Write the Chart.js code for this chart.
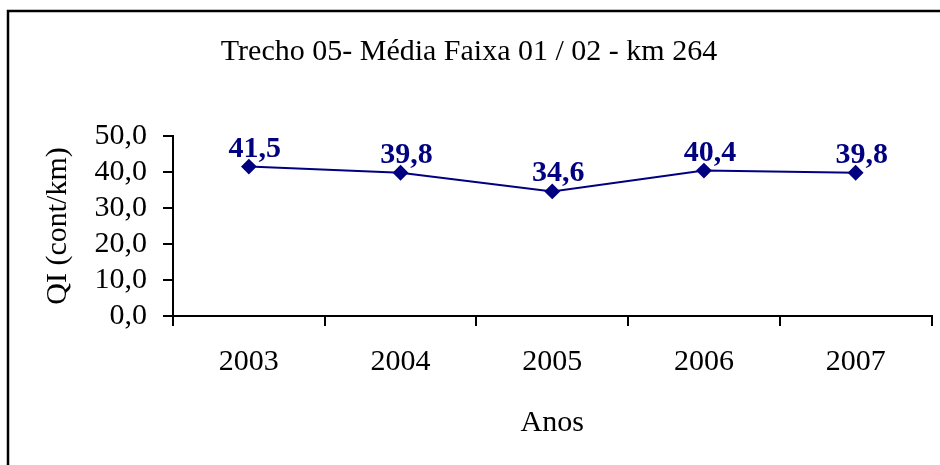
<!DOCTYPE html>
<html>
<head>
<meta charset="utf-8">
<script src="https://cdn.jsdelivr.net/npm/chart.js@4"></script>
<style>
    html, body { margin: 0; padding: 0; background: #fff; }
    #wrap { width: 940px; height: 465px; }
</style>
</head>
<body>
<div id="wrap"><canvas id="qiChart" width="940" height="465"></canvas></div>
<script>
// QI values per year
const anos = ['2003', '2004', '2005', '2006', '2007'];
const qiMedia = [41.5, 39.8, 34.6, 40.4, 39.8];
const yTicks = [0, 10, 20, 30, 40, 50];

const serif = "'Liberation Serif', 'Times New Roman', serif";
const navy = '#000080';
const fontSize = 30;

const fmt = v => v.toFixed(1).replace('.', ',');

// frame line along the top and left side of the figure
const framePlugin = {
    id: 'frame',
    beforeDraw(chart) {
        const ctx = chart.ctx;
        ctx.save();
        ctx.strokeStyle = '#000';
        ctx.lineWidth = 2.5;
        ctx.beginPath();
        ctx.moveTo(8, 465);
        ctx.lineTo(8, 11);
        ctx.lineTo(940, 11);
        ctx.stroke();
        ctx.restore();
    }
};

// value labels above each point
const valueLabels = {
    id: 'valueLabels',
    afterDatasetsDraw(chart) {
        const ctx = chart.ctx;
        const meta = chart.getDatasetMeta(0);
        ctx.save();
        ctx.font = 'bold ' + fontSize + 'px ' + serif;
        ctx.fillStyle = navy;
        ctx.textAlign = 'center';
        ctx.textBaseline = 'alphabetic';
        meta.data.forEach((pt, i) => {
            ctx.fillText(fmt(chart.data.datasets[0].data[i]), pt.x + 6, pt.y - 10);
        });
        ctx.restore();
    }
};

const ctx = document.getElementById('qiChart').getContext('2d');
new Chart(ctx, {
    type: 'line',
    data: {
        labels: anos,
        datasets: [{
            data: qiMedia,
            borderColor: navy,
            backgroundColor: navy,
            borderWidth: 2,
            pointStyle: 'rectRot',
            pointRadius: 6.5,
            pointBackgroundColor: navy,
            pointBorderColor: navy,
            tension: 0,
            fill: false
        }]
    },
    options: {
        responsive: false,
        animation: false,
        layout: { padding: { left: 0, right: 2, top: 0, bottom: 0 } },
        plugins: {
            legend: { display: false },
            tooltip: { enabled: false },
            title: {
                display: true,
                text: 'Trecho 05- Média Faixa 01 / 02 - km 264',
                color: '#000',
                font: { family: serif, size: fontSize, weight: 'normal', lineHeight: 1.2 },
                padding: { top: 34, bottom: 66 }
            }
        },
        scales: {
            x: {
                offset: true,
                grid: {
                    offset: true,
                    drawOnChartArea: false,
                    drawTicks: true,
                    tickLength: 10,
                    color: '#000',
                    lineWidth: 2
                },
                border: { display: true, color: '#000', width: 2 },
                ticks: {
                    color: '#000',
                    font: { family: serif, size: fontSize },
                    padding: 18,
                    maxRotation: 0,
                    autoSkip: false
                },
                title: {
                    display: true,
                    text: 'Anos',
                    color: '#000',
                    font: { family: serif, size: fontSize, lineHeight: 1.2 },
                    padding: { top: 0, bottom: 24 }
                },
                afterFit(scale) { scale.height = 149; }
            },
            y: {
                min: 0,
                max: 50,
                afterBuildTicks(scale) {
                    scale.ticks = yTicks.map(v => ({ value: v }));
                },
                grid: {
                    drawOnChartArea: false,
                    drawTicks: true,
                    tickLength: 10,
                    color: '#000',
                    lineWidth: 2
                },
                border: { display: true, color: '#000', width: 2 },
                ticks: {
                    color: '#000',
                    font: { family: serif, size: fontSize, lineHeight: 1 },
                    padding: 16,
                    autoSkip: false,
                    callback: v => fmt(v)
                },
                title: {
                    display: true,
                    text: 'QI (cont/km)',
                    color: '#000',
                    font: { family: serif, size: fontSize, lineHeight: 1.2 },
                    padding: { top: 40, bottom: 0 }
                },
                afterFit(scale) { scale.width = 173; }
            }
        }
    },
    plugins: [framePlugin, valueLabels]
});
</script>
</body>
</html>
